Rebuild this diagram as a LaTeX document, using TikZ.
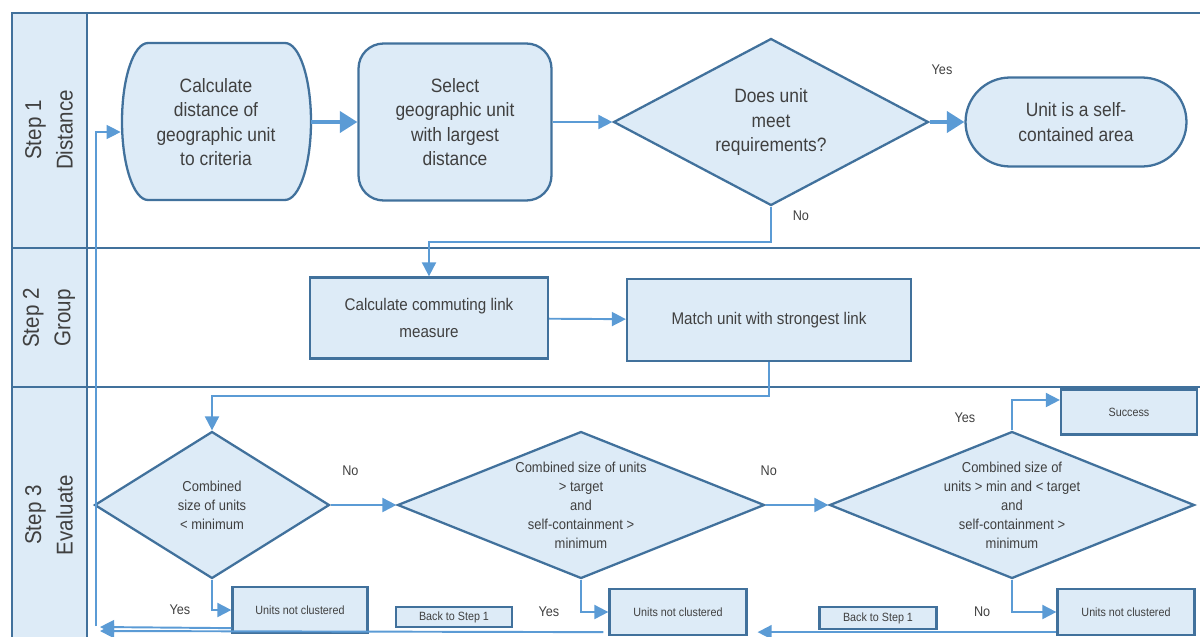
\documentclass[tikz,border=0pt]{standalone}
\usepackage{fontspec}
\setmainfont{Liberation Sans}[FakeStretch=0.9]
\usetikzlibrary{shapes.geometric,shapes.misc,arrows.meta}
\definecolor{LaneBlue}{HTML}{41719C}
\definecolor{FillBlue}{HTML}{DDEBF7}
\definecolor{LinkBlue}{HTML}{5B9BD5}
\definecolor{TextGray}{HTML}{404040}

\begin{document}
\begin{tikzpicture}[x=0.02cm,y=-0.02cm,>={Triangle[length=8pt,width=8pt]}]
\tikzset{BoxStyle/.style = {draw=LaneBlue, fill=FillBlue, line width=1.3pt,
                            text=TextGray, align=center, inner sep=0pt},
         BigText/.style = {font=\fontsize{11}{14}\selectfont},
         MidText/.style = {font=\fontsize{9.6}{15}\selectfont},
         DiaText/.style = {font=\fontsize{8.2}{10.8}\selectfont},
         SmallText/.style = {font=\fontsize{6.8}{8}\selectfont},
         DiaStyle/.style = {BoxStyle, diamond, aspect=2.5},
         LaneText/.style = {rotate=90, align=center, text=TextGray,
                            font=\fontsize{13}{18}\selectfont},
         LabelStyle/.style = {font=\fontsize{8}{10}\selectfont, text=TextGray},
         LinkStyle/.style = {draw=LinkBlue, line width=1.1pt, ->},
         FatLinkStyle/.style = {draw=LinkBlue, line width=2.2pt,
                                -{Triangle[length=10pt,width=12pt]}}
  }
\useasboundingbox (0,0) rectangle (1200,636);
\clip (0,0) rectangle (1200,636);

% lanes
\fill[FillBlue] (12,13) rectangle (87,700);
\draw[LaneBlue, line width=1.3pt] (12,13) rectangle (1215,700);
\draw[LaneBlue, line width=1.3pt] (87,13) -- (87,700);
\draw[LaneBlue, line width=1.3pt] (12,248) -- (1215,248);
\draw[LaneBlue, line width=1.3pt] (12,387) -- (1215,387);
\node[LaneText] (lane1) at (49,130) {Step 1\\Distance};
\node[LaneText] (lane2) at (49,318) {Step 2\\Group};
\node[LaneText] (lane3) at (49,515) {Step 3\\Evaluate};

%-----------------------------
% outline of the first box, curved at the sides
\draw[BoxStyle] (148,43) -- (285,43)
  arc[start angle=90, end angle=-90, x radius=0.52cm, y radius=1.57cm] -- (148,200)
  arc[start angle=270, end angle=90, x radius=0.52cm, y radius=1.57cm] -- cycle;
\node[BigText, text=TextGray, align=center, inner sep=0pt,
      minimum width=3.8cm, minimum height=3.14cm] (calc) at (216,122)
      {Calculate\\distance of\\geographic unit\\to criteria};
\node[BoxStyle, BigText, rounded corners=0.5cm,
      minimum width=3.86cm, minimum height=3.14cm] (select) at (455,122)
      {Select\\geographic unit\\with largest\\distance};
\node[DiaStyle, BigText, aspect=1.9, minimum width=6.3cm, minimum height=3.34cm]
      (meet) at (771,122) {Does unit\\meet\\requirements?};
\node[BoxStyle, BigText, rounded rectangle,
      minimum width=4.42cm, minimum height=1.78cm] (area) at (1076,122)
      {Unit is a self-\\contained area};
%-----------------------------
\node[BoxStyle, MidText, minimum width=4.76cm, minimum height=1.62cm]
      (link) at (429,318) {Calculate commuting link\\measure};
\node[BoxStyle, MidText, minimum width=5.68cm, minimum height=1.64cm]
      (match) at (769,320) {Match unit with strongest link};
%-----------------------------
\node[DiaStyle, DiaText, aspect=2, minimum width=4.7cm, minimum height=2.94cm]
      (small) at (212,505) {Combined\\size of units\\< minimum};
\node[DiaStyle, DiaText, minimum width=7.34cm, minimum height=2.94cm]
      (target) at (581,505)
      {Combined size of units\\> target\\and\\self-containment >\\minimum};
\node[DiaStyle, DiaText, minimum width=7.3cm, minimum height=2.94cm]
      (range) at (1012,505)
      {Combined size of\\units > min and < target\\and\\self-containment >\\minimum};
\node[BoxStyle, SmallText, minimum width=2.72cm, minimum height=0.9cm]
      (success) at (1129,412) {Success};
\node[BoxStyle, SmallText, minimum width=2.7cm, minimum height=0.92cm]
      (nc1) at (300,610) {Units not clustered};
\node[BoxStyle, SmallText, minimum width=2.74cm, minimum height=0.92cm]
      (nc2) at (678,612) {Units not clustered};
\node[BoxStyle, SmallText, minimum width=2.74cm, minimum height=0.92cm]
      (nc3) at (1126,612) {Units not clustered};
\node[BoxStyle, SmallText, minimum width=2.32cm, minimum height=0.4cm]
      (back1) at (454,617) {Back to Step 1};
\node[BoxStyle, SmallText, minimum width=2.34cm, minimum height=0.44cm]
      (back2) at (878,618) {Back to Step 1};

\coordinate (loop) at (96,626);
\coordinate (ret1) at (100,627);
\coordinate (ret2) at (100,631);

% connectors
\draw[FatLinkStyle] (calc) -- (select);
\draw[LinkStyle] (select) -- (meet);
\draw[FatLinkStyle] (meet) -- node[LabelStyle, above=0.8cm, xshift=-0.1cm] {Yes} (area);
\draw[LinkStyle] (meet.south) -- node[LabelStyle, right=0.3cm, pos=0.25] {No} ++(0,35) -| (link.north);
%-----------------------------
\draw[LinkStyle] (link) -- (match);
\draw[LinkStyle] (match.south) -- ++(0,34) -| (small.north);
%-----------------------------
\draw[LinkStyle] (small) -- node[LabelStyle, above=0.45cm, pos=0.3] {No} (target);
\draw[LinkStyle] (target) -- node[LabelStyle, above=0.45cm, pos=0.05] {No} (range);
\draw[LinkStyle] (range.north) |- node[LabelStyle, left=0.6cm, pos=0.2] {Yes} ([yshift=0.24cm]success.west);
\draw[LinkStyle] (small.south) |- node[LabelStyle, left=0.3cm, pos=0.5] {Yes} (nc1.west);
\draw[LinkStyle] (target.south) |- node[LabelStyle, left=0.3cm, pos=0.5] {Yes} (nc2.west);
\draw[LinkStyle] (range.south) |- node[LabelStyle, left=0.3cm, pos=0.5] {No} (nc3.west);
%-----------------------------
\draw[LinkStyle] ([yshift=0.08cm]nc3.south west) -- ([xshift=0.2cm,yshift=0.08cm]nc2.south east);
\draw[LinkStyle] ([xshift=-0.1cm,yshift=0.08cm]nc2.south west) -- (ret2);
\draw[LinkStyle] ([yshift=0.12cm]nc1.south west) -- (ret1);
\draw[LinkStyle, line width=0.6pt] (loop) |- ([yshift=-0.2cm]calc.west);

\end{tikzpicture}
\end{document}
